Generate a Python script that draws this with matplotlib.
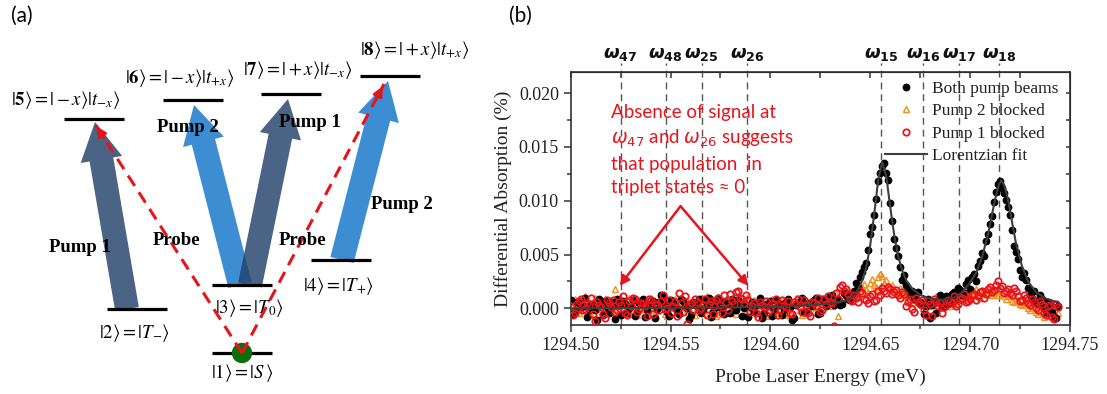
import numpy as np
import matplotlib.pyplot as plt
from matplotlib.patches import FancyArrow, Circle
from matplotlib.ticker import MultipleLocator, FormatStrFormatter

plt.rcParams['font.family'] = 'Liberation Serif'

# ---------------- panel (b) data ----------------
# probe scan grids (meV): two interleaved sweeps
energy = np.round(np.arange(1294.500, 1294.7445, 0.002), 3)
energy2 = np.round(np.arange(1294.501, 1294.7435, 0.002), 3)

# differential absorption, in units of 1e-3 %
both_pump = [0.8, -0.3, 0.5, 0.2, -0.8, 0.4, -0.2, 0.9, -0.6, 0.1,
             0.6, -1.0, 0.3, 0.7, -0.4, 0.2, -0.7, 0.5, 0.9, -0.2,
             0.4, -0.9, 0.6, 1.1, -0.3, 0.8, 0.2, -0.5, 0.7, 0.0,
             -0.6, 0.4, 0.9, -0.2, 0.3, -0.8, 0.5, 1.0, -0.1, 0.6,
             -0.4, 0.2, 0.8, -0.7, 0.3, 0.1, -0.3, 0.5, -0.9, 0.4,
             0.7, -0.2, 0.3, -0.6, 0.6, 0.1, -0.9, 0.5, 1.0, -0.3,
             0.4, 0.8, -0.5, 0.9, 0.2, 1.1, 0.3, 0.9, 0.4, 1.2,
             0.8, 1.6, 2.0, 3.4, 4.2, 6.9, 8.7, 11.8, 13.2, 12.6,
             9.8, 6.4, 4.9, 2.6, 2.2, 1.3, 0.9, 1.5, 0.4, 0.2,
             -0.9, 0.5, 0.8, 0.1, 1.1, 0.6, 1.5, 1.9, 1.2, 2.3,
             1.8, 3.2, 3.9, 5.1, 6.3, 7.8, 9.9, 11.6, 11.2, 10.1,
             8.7, 5.8, 4.6, 2.9, 2.6, 1.2, 1.6, 0.4, 0.9, -0.4,
             0.3, -0.8, 0.2]
both_pump_2 = [-0.5, 0.6, 0.1, 1.0, -0.2, 0.3, -1.1, 0.5, 0.7, -0.4,
               0.2, 0.9, -0.6, 0.4, 0.0, 0.8, -0.3, 0.6, -0.8, 0.3,
               0.7, -0.1, 1.2, 0.4, -0.7, 0.5, -0.2, 0.9, 0.3, -1.0,
               0.6, 0.2, -0.4, 0.8, 1.0, -0.3, 0.1, 0.7, -0.5, 0.4,
               0.9, -0.2, 0.5, 0.0, -0.8, 0.6, 0.3, 1.0, -0.4, 0.2,
               -0.7, 0.8, 0.4, -0.2, 0.9, -1.1, 0.3, 0.6, -0.3, 0.5,
               0.2, 1.0, -0.4, 0.7, 0.5, 1.2, 0.6, 0.3, 1.4, 0.9,
               1.3, 2.4, 2.9, 3.8, 5.4, 7.6, 10.2, 12.6, 13.5, 11.9,
               8.1, 5.6, 3.8, 3.1, 1.9, 1.6, 1.0, 0.6, -0.5, 0.9,
               0.3, -0.4, 1.2, 0.7, 0.4, 1.3, 0.9, 1.7, 1.4, 2.6,
               2.9, 2.5, 4.4, 4.9, 6.9, 8.6, 10.8, 11.8, 10.7, 9.4,
               7.3, 5.2, 3.6, 3.3, 1.9, 1.0, 0.7, 1.2, 0.1, 0.6,
               -0.3, -0.9]
pump2_blocked = [0.3, 0.9, -0.4, 0.6, 0.1, -0.6, 1.0, 0.2, -0.3, 0.7,
                 0.4, 1.8, -0.2, 0.5, 0.9, -0.5, 0.3, 0.8, -0.1, 0.5,
                 1.0, -0.4, 0.2, 0.6, -0.7, 0.4, 0.9, 0.0, -0.3, 0.7,
                 0.3, -0.6, 0.8, 0.1, 1.1, -0.2, 0.5, -0.5, 0.6, 0.9,
                 -0.3, 0.4, 1.0, 0.2, -0.6, 0.5, 0.8, -0.2, 0.3, -0.7,
                 0.6, 0.1, -0.4, 0.7, 0.2, -0.5, 0.4, 0.9, -0.6, 0.3,
                 0.7, -0.3, 0.5, 0.1, 0.8, 0.4, 0.9, -0.7, 0.6, 1.2,
                 0.8, 1.5, 1.3, 2.0, 1.7, 2.4, 2.2, 2.9, 3.0, 2.6,
                 1.8, 1.9, 1.4, 1.7, 1.1, 1.3, 0.6, 1.0, 0.3, 0.8,
                 0.5, -0.3, 0.9, 0.4, 1.0, 0.2, 0.7, 1.2, 0.8, 1.4,
                 1.0, 1.6, 1.2, 1.5, 1.3, 1.7, 1.4, 1.2, 1.5, 0.9,
                 1.1, 0.6, 0.8, 0.3, 0.5, -0.2, 0.4, -0.5, 0.1, -0.3,
                 -0.7, 0.2, -0.4]
pump2_blocked_2 = [0.6, -0.2, 0.4, 1.1, -0.5, 0.3, 0.7, -0.1, 0.9, 0.2,
                   -0.4, 0.8, 0.5, -0.3, 1.0, 0.1, -0.6, 0.6, 0.3, 0.9,
                   -0.2, 0.5, 1.2, -0.5, 0.2, 0.7, -0.3, 0.4, 0.8, -0.1,
                   0.6, 0.0, 1.0, -0.4, 0.5, 0.9, -0.7, 0.3, 0.7, 0.1,
                   0.4, -0.5, 0.8, 0.2, 1.1, -0.2, 0.6, 0.3, -0.6, 0.5,
                   0.9, -0.3, 0.2, 0.7, -0.6, 0.4, 1.0, -0.2, 0.5, 0.1,
                   0.8, 0.3, -0.4, 0.6, 1.0, 0.2, 1.3, 0.5, 1.0, 1.6,
                   1.1, 1.9, 1.6, 2.3, 1.5, 2.7, 2.0, 3.2, 2.4, 2.1,
                   2.2, 1.5, 1.9, 1.2, 1.5, 0.8, 1.3, 0.5, 0.9, 0.2,
                   0.7, 1.1, 0.1, 0.6, 0.8, 1.0, 0.4, 1.5, 1.1, 0.9,
                   1.3, 1.8, 1.0, 1.6, 1.9, 1.2, 1.6, 1.8, 1.1, 1.3,
                   0.7, 1.0, 0.4, 0.7, 0.0, 0.5, -0.3, 0.2, -0.8, 0.4,
                   -0.1, -0.6]
pump1_blocked = [0.2, -0.4, 0.7, -0.2, 0.5, 1.0, -1.2, 0.3, -0.5, 0.8,
                 0.1, -0.3, 0.6, 1.1, -0.6, 0.2, 0.9, -0.1, 0.4, -0.7,
                 0.8, 0.3, -0.2, 1.2, 0.0, -0.4, 0.6, 1.4, -0.3, -1.5,
                 0.5, 0.9, -0.2, 0.3, -0.6, 0.7, 0.2, 1.0, -0.4, 0.6,
                 1.3, 0.4, 1.6, 0.9, 1.2, -0.3, 0.5, -0.8, 0.3, 0.7,
                 -0.2, 0.4, -0.6, 0.8, 0.1, -0.4, 0.6, 0.9, -0.3, 0.3,
                 -0.7, 0.5, 1.0, -0.2, 0.4, 0.6, -1.6, 0.9, 2.2, 1.8,
                 0.9, 1.2, 0.6, 1.4, 0.8, 1.1, 0.7, 1.6, 1.9, 1.4,
                 1.8, 1.5, 1.2, 1.5, 0.2, 0.9, -0.3, 0.6, 0.8, -0.6,
                 0.4, 0.9, 0.2, -0.4, 0.3, 0.7, 1.1, 0.4, 1.0, 0.6,
                 0.9, 1.3, 1.1, 1.6, 1.3, 2.0, 1.7, 2.5, 2.1, 1.6,
                 1.4, 1.9, 1.1, 0.8, 1.0, 0.3, 0.6, -0.2, 0.4, -0.6,
                 0.3, -1.0, 0.1]
pump1_blocked_2 = [-0.6, 0.4, 0.9, -0.1, 0.3, -0.5, 0.6, 0.1, -0.9, 0.5,
                   0.8, -0.2, 0.3, -0.4, 0.7, 1.0, -0.3, 0.5, 0.2, 0.9,
                   -0.5, 0.4, 0.7, -0.1, 0.8, 0.2, -0.7, 0.5, 1.1, 0.3,
                   -0.2, 0.6, 0.0, 0.9, 0.4, -0.5, 0.8, 0.3, 1.2, -0.2,
                   0.7, 1.5, 1.0, 0.5, 0.8, 0.2, -0.4, 0.6, 0.1, -0.3,
                   0.5, 0.9, -0.2, 0.3, 0.7, -0.5, 0.4, 0.1, 0.8, -0.4,
                   0.6, 0.2, -0.3, 0.9, 1.1, 0.5, 1.4, 2.0, 1.6, 1.3,
                   0.7, 1.0, 1.6, 0.9, 0.5, 1.3, 0.8, 1.2, 1.6, 2.0,
                   1.3, 1.7, 1.0, 1.3, 0.6, -0.1, 1.0, 0.4, -0.2, 0.7,
                   -0.7, 0.6, 0.5, 0.1, 0.8, 0.5, 0.2, 0.9, 1.3, 0.7,
                   1.2, 0.8, 1.5, 1.0, 1.8, 1.5, 2.2, 1.9, 1.4, 1.8,
                   1.2, 1.6, 0.7, 1.2, 0.5, 0.9, 0.0, 0.7, -0.4, 0.2,
                   -0.8, 0.4]

# Lorentzian fit
fit_energy = [1294.500, 1294.560, 1294.600, 1294.620, 1294.630, 1294.636, 1294.640,
              1294.643, 1294.646, 1294.648, 1294.650, 1294.652, 1294.654, 1294.656,
              1294.658, 1294.660, 1294.662, 1294.664, 1294.666, 1294.668, 1294.671,
              1294.675, 1294.680, 1294.686, 1294.692, 1294.696, 1294.700, 1294.703,
              1294.706, 1294.709, 1294.712, 1294.714, 1294.7155, 1294.717, 1294.719,
              1294.721, 1294.723, 1294.726, 1294.729, 1294.733, 1294.738, 1294.744]
fit_value = [0.0, 0.05, 0.15, 0.3, 0.45, 0.65, 0.9, 1.4, 2.6, 3.8, 5.9, 8.8, 12.0, 13.6,
             12.3, 9.4, 6.8, 4.8, 3.5, 2.6, 1.8, 1.25, 0.9, 0.8, 1.0, 1.5, 2.4, 3.3,
             4.8, 6.9, 9.7, 11.3, 11.9, 11.5, 10.1, 8.0, 6.0, 3.9, 2.5, 1.5, 0.9, 0.55]

omega_names = ['47', '48', '25', '26', '15', '16', '17', '18']
omega_pos = [1294.525, 1294.5475, 1294.5655, 1294.5885,
             1294.6555, 1294.6765, 1294.6945, 1294.7145]

# ---------------- panel (a) data (pixel layout of the diagram) ----------------
level_left = [212, 107, 212, 311, 64, 163, 261, 360]
level_y = [353, 309, 285, 260, 119, 100, 94, 76]
level_text = [r'$|1\rangle = |S\,\rangle$', r'$|2\rangle = |T_{-}\rangle$',
              r'$|3\rangle = |T_0\rangle$', r'$|4\rangle = |T_{+}\rangle$',
              r'$|\mathbf{5}\rangle = |-x\rangle|t_{-x}\rangle$',
              r'$|\mathbf{6}\rangle = |-x\rangle|t_{+x}\rangle$',
              r'$|\mathbf{7}\rangle = |+x\rangle|t_{-x}\rangle$',
              r'$|\mathbf{8}\rangle = |+x\rangle|t_{+x}\rangle$']
level_text_xy = [(242, 373), (135, 333), (249, 308), (339, 286),
                 (66, 100), (180, 78), (298, 70), (415, 50)]

pump_start = [(127, 309), (240, 285), (250, 285), (342, 260)]
pump_end = [(95, 122), (194, 105), (288, 99), (388, 81)]
pump_color = ['#4b6485', '#3c8dd2', '#4b6485', '#3c8dd2']
pump_label = ['Pump 1', 'Pump 2', 'Pump 1', 'Pump 2']
pump_label_xy = [(80, 248), (188, 127), (310, 122), (402, 204)]
probe_end = [(95, 124), (384, 84)]
probe_label_xy = [(177, 240), (303, 240)]

red = '#e8141c'
orange = '#f39019'

fig = plt.figure(figsize=(11.07, 3.94), dpi=100)

# ---------------- panel (a) ----------------
ax_a = fig.add_axes([0, 0, 480 / 1107, 1])
ax_a.set_xlim(0, 480)
ax_a.set_ylim(394, 0)
ax_a.axis('off')

arrows = []
for (x0, y0), (x1, y1), c in zip(pump_start, pump_end, pump_color):
    p = FancyArrow(x0, y0, x1 - x0, y1 - y0, width=24, head_width=42,
                   head_length=38, length_includes_head=True, color=c, lw=0)
    ax_a.add_patch(p)
    arrows.append(p)

# darker area where the two middle pump beams overlap
(x0, y0), (x1, y1) = pump_start[1], pump_end[1]
overlap = FancyArrow(x0, y0, x1 - x0, y1 - y0, width=24, head_width=42,
                     head_length=38, length_includes_head=True, color='#28507e', lw=0)
ax_a.add_patch(overlap)
overlap.set_clip_path(arrows[2])

for x0, y in zip(level_left, level_y):
    ax_a.plot([x0, x0 + 60], [y, y], color='black', lw=2.3, solid_capstyle='butt')

ax_a.add_patch(Circle((242, 353), 9.5, color='#0b6e0b', zorder=3))

for (x1, y1) in probe_end:
    ax_a.plot([242, x1], [353, y1], color=red, lw=2.2, ls=(0, (4, 2.5)), zorder=4)
    ax_a.annotate('', xy=(x1, y1), xytext=(242 + (x1 - 242) * 0.93, 353 + (y1 - 353) * 0.93),
                  arrowprops=dict(arrowstyle='-|>', color=red, lw=2.0, mutation_scale=14),
                  zorder=5)

for t, (x, y) in zip(level_text, level_text_xy):
    ax_a.text(x, y, t, ha='center', va='center', fontsize=13.5, math_fontfamily='stix')

for t, (x, y) in zip(pump_label, pump_label_xy):
    ax_a.text(x, y, t, ha='center', va='center', fontsize=13.5, fontweight='bold', zorder=6)
for (x, y) in probe_label_xy:
    ax_a.text(x, y, 'Probe', ha='center', va='center', fontsize=13.5, fontweight='bold',
              zorder=6)

fig.text(22 / 1107, 1 - 16 / 394, '(a)', fontsize=15, family='Lato', ha='center', va='center')
fig.text(520 / 1107, 1 - 16 / 394, '(b)', fontsize=15, family='Lato', ha='center', va='center')

# ---------------- panel (b) ----------------
ax = fig.add_axes([570.7 / 1107, 1 - 325 / 394, (1070 - 570.7) / 1107, (325 - 71.7) / 394])

scale = 1e-3
e_all = np.concatenate([energy, energy2])
l_or, = ax.plot(e_all, np.array(pump2_blocked + pump2_blocked_2) * scale, '^', ms=5,
                mfc='none', mec=orange, mew=1.0, ls='none', label='Pump 2 blocked', zorder=2)
l_bk, = ax.plot(e_all, np.array(both_pump + both_pump_2) * scale, 'o', ms=4.6,
                color='black', ls='none', label='Both pump beams', zorder=3)
l_rd, = ax.plot(e_all, np.array(pump1_blocked + pump1_blocked_2) * scale, 'o', ms=4.6,
                mfc='none', mec=red, mew=1.3, ls='none', label='Pump 1 blocked', zorder=4)
l_fit, = ax.plot(fit_energy, np.array(fit_value) * scale, '-', color='#3f3f3f', lw=1.5,
                 label='Lorentzian fit', zorder=5)

ax.set_xlim(1294.50, 1294.75)
ax.set_ylim(-0.00155, 0.0220)

for name, pos in zip(omega_names, omega_pos):
    ax.axvline(pos, ymin=0, ymax=1.035, color='#555555', lw=1.0, ls=(0, (5, 3.5)),
               clip_on=False, zorder=1)
    ax.text(pos, 0.0236, r'$\boldsymbol{\omega}_{\mathbf{' + name + '}}$', ha='center',
            va='center', fontsize=13, color='#111111', math_fontfamily='dejavusans')

ax.xaxis.set_major_locator(MultipleLocator(0.05))
ax.xaxis.set_minor_locator(MultipleLocator(0.025))
ax.yaxis.set_major_locator(MultipleLocator(0.005))
ax.yaxis.set_minor_locator(MultipleLocator(0.0025))
ax.xaxis.set_major_formatter(FormatStrFormatter('%.2f'))
ax.yaxis.set_major_formatter(FormatStrFormatter('%.3f'))
ax.tick_params(which='major', direction='out', length=5, width=1.1, labelsize=13,
               colors='#333333', labelcolor='#222222', labelfontfamily='Liberation Serif')
ax.tick_params(which='minor', direction='out', length=3.2, width=1.1, colors='#333333')
for s in ax.spines.values():
    s.set_linewidth(1.2)
    s.set_color('#333333')

top = ax.secondary_xaxis('top')
top.xaxis.set_major_locator(MultipleLocator(0.025))
top.tick_params(direction='in', length=4.5, width=1.1, labeltop=False, colors='#333333')
right = ax.secondary_yaxis('right')
right.yaxis.set_major_locator(MultipleLocator(0.0025))
right.tick_params(direction='in', length=3, width=1.1, labelright=False, colors='#333333')

ax.set_xlabel('Probe Laser Energy (meV)', fontsize=14, color='#222222', labelpad=11)
ax.set_ylabel('Differential Absorption (%)', fontsize=14, color='#222222', labelpad=5)

ax.text(1294.5204, 0.0190,
        'Absence of signal at\n$\\omega_{47}$ and $\\omega_{26}$ suggests\n'
        'that population  in\ntriplet states \u2248 0',
        color=red, fontsize=13.5, family='Lato', ha='left', va='top', linespacing=1.45,
        zorder=6)
for tip in [(1294.5245, 0.0021), (1294.589, 0.0021)]:
    ax.annotate('', xy=tip, xytext=(1294.555, 0.0095),
                arrowprops=dict(arrowstyle='-|>', color=red, lw=1.8, mutation_scale=14,
                                shrinkA=0, shrinkB=0), zorder=6)

leg = ax.legend(handles=[l_bk, l_or, l_rd, l_fit], loc='upper left',
                bbox_to_anchor=(885 / 1107, 1 - 81 / 394), bbox_transform=fig.transFigure,
                frameon=False, handlelength=2.4, handletextpad=0.3,
                labelspacing=0.35, borderpad=0, borderaxespad=0, numpoints=1,
                prop={'size': 12.5})
for t in leg.get_texts():
    t.set_color('#222222')

fig.savefig('out.png', dpi=100)
